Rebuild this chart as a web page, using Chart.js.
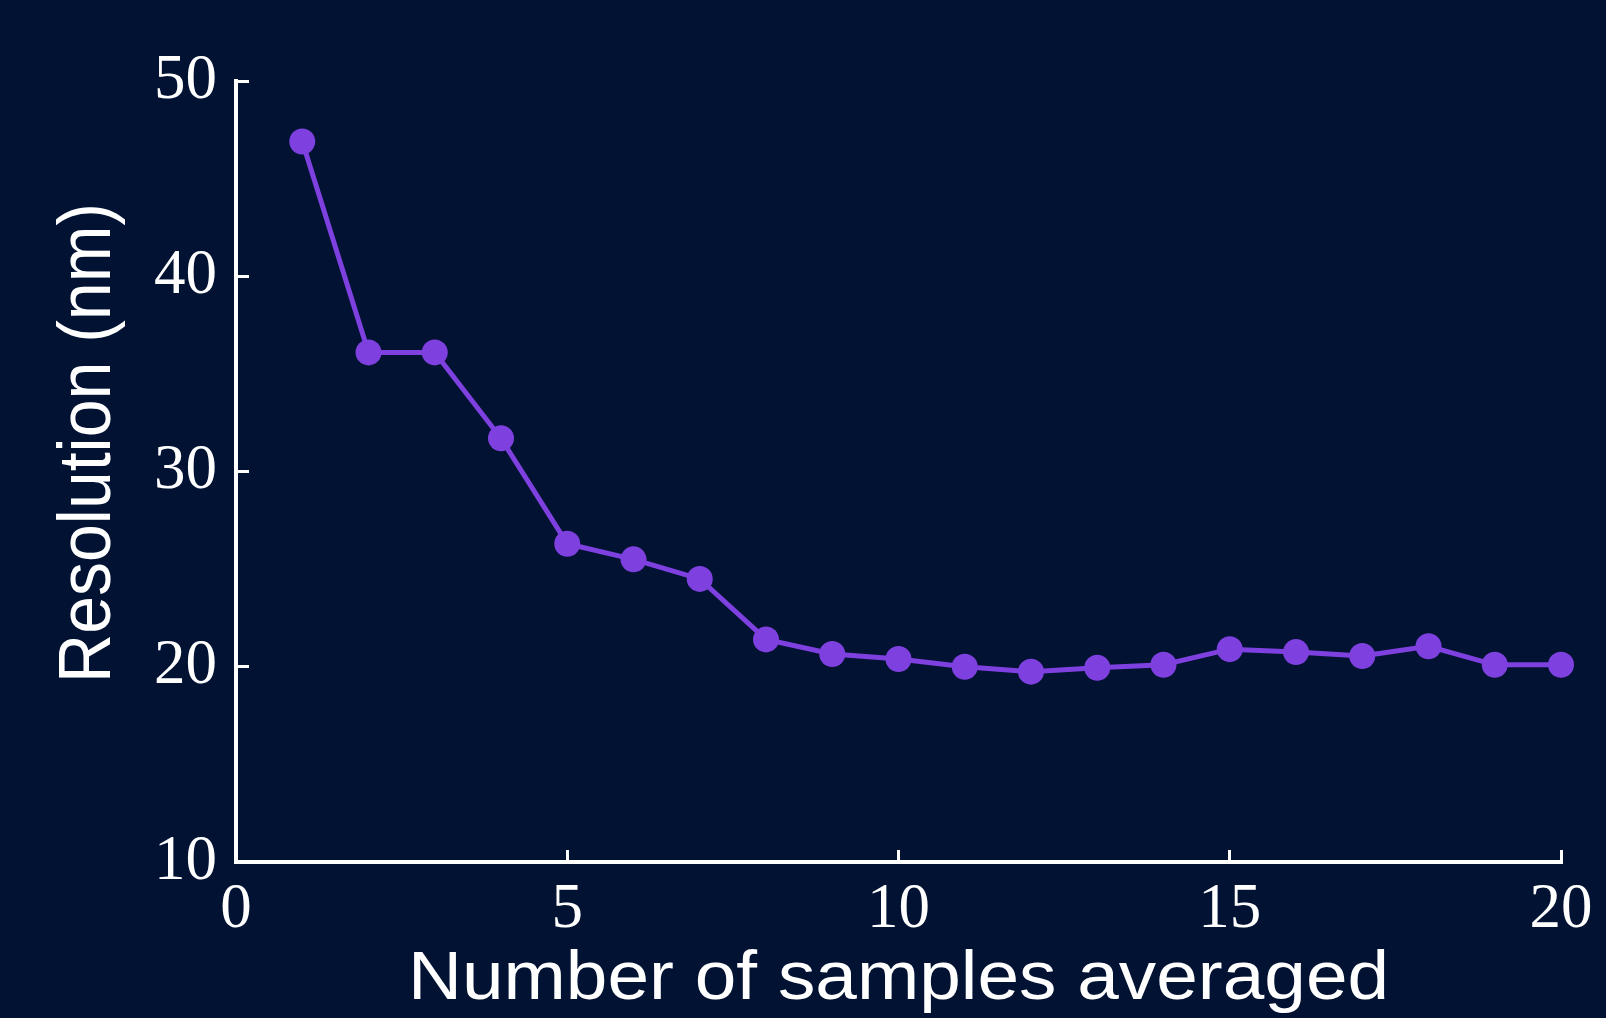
<!DOCTYPE html>
<html>
<head>
<meta charset="utf-8">
<script src="https://cdn.jsdelivr.net/npm/chart.js@4.4.1/dist/chart.umd.min.js"></script>
<style>
  html, body { margin: 0; padding: 0; background: #011233; }
  canvas { display: block; }
</style>
</head>
<body>
<canvas id="grafico" width="1606" height="1018"></canvas>
<script>
// dados
const amostras = [1, 2, 3, 4, 5, 6, 7, 8, 9, 10, 11, 12, 13, 14, 15, 16, 17, 18, 19, 20];
const resolucao = [46.9, 36.1, 36.1, 31.7, 26.3, 25.5, 24.5, 21.4, 20.65, 20.4,
                   20.0, 19.75, 19.95, 20.1, 20.9, 20.75, 20.55, 21.05, 20.1, 20.1];
const ticksX = [0, 5, 10, 15, 20];
const ticksY = [10, 20, 30, 40, 50];
const tituloX = 'Number of samples averaged';
const tituloY = 'Resolution (nm)';

const corFundo = '#011233';
const corLinha = '#7f40e0';
const branco = '#ffffff';

// titulos dos eixos (a figura original esta esticada na horizontal)
const titulosEixos = {
    id: 'titulosEixos',
    afterDraw(chart) {
        const ctx = chart.ctx;
        const area = chart.chartArea;
        ctx.save();
        ctx.fillStyle = branco;
        ctx.font = '68px "Liberation Sans", Arial, sans-serif';
        ctx.textAlign = 'center';
        ctx.textBaseline = 'alphabetic';

        ctx.save();
        ctx.translate((area.left + area.right) / 2, 999);
        ctx.scale(1.1, 1);
        ctx.fillText(tituloX, 0, 0);
        ctx.restore();

        ctx.save();
        ctx.translate(110, 443);
        ctx.scale(1.08, 1);
        ctx.rotate(-Math.PI / 2);
        ctx.fillText(tituloY, 0, 0);
        ctx.restore();

        ctx.restore();
    }
};

const fundo = {
    id: 'fundo',
    beforeDraw(chart) {
        const ctx = chart.ctx;
        ctx.save();
        ctx.fillStyle = corFundo;
        ctx.fillRect(0, 0, chart.width, chart.height);
        ctx.restore();
    }
};

function gerarGrafico() {
    const fonteTicks = { family: '"Liberation Serif", "Times New Roman", serif', size: 63 };
    let config = {
        type: 'line',
        data: {
            datasets: [{
                data: amostras.map((x, i) => ({ x: x, y: resolucao[i] })),
                borderColor: corLinha,
                backgroundColor: corLinha,
                borderWidth: 5,
                pointRadius: 13,
                pointHoverRadius: 13,
                pointBorderWidth: 0,
                pointBackgroundColor: corLinha,
                tension: 0,
                fill: false,
                clip: false
            }]
        },
        options: {
            responsive: false,
            animation: false,
            devicePixelRatio: 1,
            layout: { padding: { left: 0, right: 45, top: 81, bottom: 0 } },
            plugins: {
                legend: { display: false },
                tooltip: { enabled: false }
            },
            scales: {
                x: {
                    type: 'linear',
                    min: 0,
                    max: 20,
                    afterBuildTicks: scale => { scale.ticks = ticksX.map(v => ({ value: v })); },
                    afterFit: scale => {
                        scale.height = 156;
                        scale.paddingLeft = 0;
                        scale.paddingRight = 0;
                    },
                    border: { display: true, color: branco, width: 4 },
                    grid: {
                        drawOnChartArea: false,
                        drawTicks: true,
                        tickLength: -12,
                        color: branco,
                        lineWidth: 3
                    },
                    ticks: {
                        color: branco,
                        font: fonteTicks,
                        padding: 23,
                        maxRotation: 0,
                        autoSkip: false
                    },
                    title: { display: false }
                },
                y: {
                    type: 'linear',
                    min: 10,
                    max: 50,
                    afterBuildTicks: scale => { scale.ticks = ticksY.map(v => ({ value: v })); },
                    afterFit: scale => {
                        scale.width = 236;
                        scale.paddingTop = 0;
                        scale.paddingBottom = 0;
                    },
                    border: { display: true, color: branco, width: 4 },
                    grid: {
                        drawOnChartArea: false,
                        drawTicks: true,
                        tickLength: -13,
                        color: branco,
                        lineWidth: 3
                    },
                    ticks: {
                        color: branco,
                        font: fonteTicks,
                        padding: 32,
                        autoSkip: false
                    },
                    title: { display: false }
                }
            }
        },
        plugins: [fundo, titulosEixos]
    };

    let ctx = document.getElementById('grafico').getContext('2d');
    window.meuGrafico = new Chart(ctx, config);
}

gerarGrafico();
</script>
</body>
</html>
